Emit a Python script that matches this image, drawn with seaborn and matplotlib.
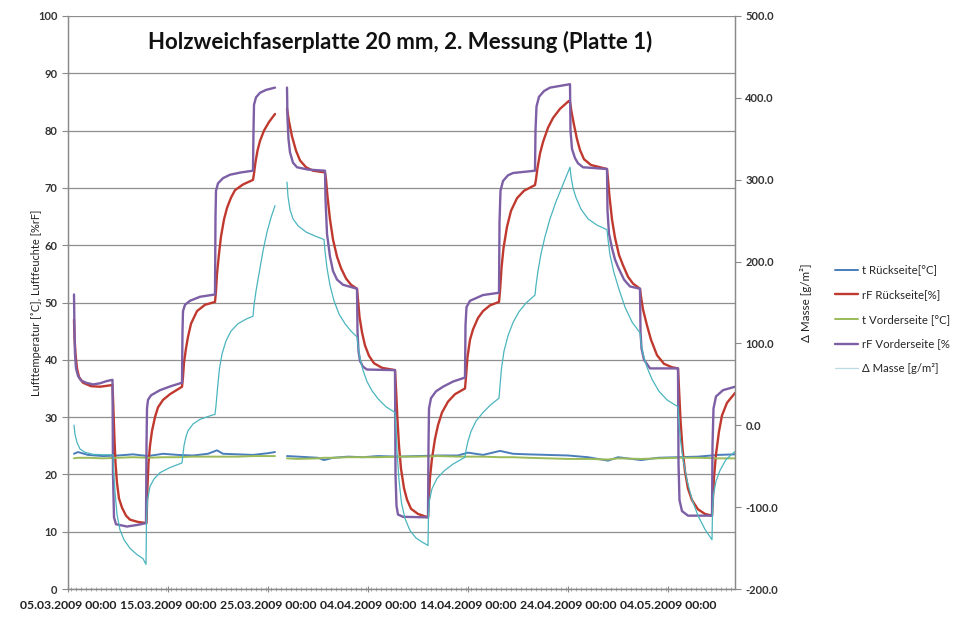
import numpy as np
import pandas as pd
import matplotlib
matplotlib.use("Agg")
import matplotlib.pyplot as plt
import matplotlib.dates as mdates
from matplotlib.lines import Line2D
import seaborn as sns

START = pd.Timestamp("2009-03-05")
GAP_DAY = 21.3  # no readings between ~25.03. 18:00 and ~26.03. 22:00

# rF Vorderseite [%]  (days after 05.03.2009)
rf_vor_days = [0.6, 0.65, 0.7, 0.8, 1.0, 1.3, 1.8, 2.5, 3.2, 3.9, 4.45,
               4.5, 4.6, 4.8, 5.9, 7.0, 7.8,
               7.85, 7.9, 8.0, 8.3, 9.2, 10.3, 11.4,
               11.45, 11.5, 11.7, 12.2, 13.2, 14.7,
               14.75, 14.8, 15.0, 15.5, 16.2, 17.3, 18.5,
               18.55, 18.6, 18.8, 19.2, 19.8, 20.7,
               21.9, 21.95, 22.05, 22.2, 22.5, 22.9, 24.0, 25.7,
               25.75, 25.9, 26.2, 26.5, 26.9, 27.5, 28.9,
               28.95, 29.05, 29.2, 29.5, 29.9, 32.7,
               32.75, 32.85, 33.0, 33.5, 36.0,
               36.05, 36.1, 36.3, 36.8, 37.5, 38.5, 39.7,
               39.75, 39.85, 40.2, 41.5, 43.1,
               43.15, 43.25, 43.5, 44.0, 44.5, 46.7,
               46.75, 46.85, 47.1, 47.6, 48.2, 50.2,
               50.25, 50.4, 50.7, 51.0, 51.5, 53.9,
               53.95, 54.1, 54.4, 54.7, 55.0, 55.6, 56.2, 57.2,
               57.25, 57.35, 57.6, 58.2, 61.0,
               61.05, 61.15, 61.4, 62.0, 64.4,
               64.45, 64.55, 64.8, 65.5, 66.7]
rf_vor = [51.4, 45.0, 41.0, 38.5, 37.2, 36.4, 36.0, 35.7, 35.9, 36.3, 36.5,
          20.0, 12.5, 11.3, 10.9, 11.2, 11.5,
          25.0, 31.5, 33.0, 33.8, 34.7, 35.4, 36.0,
          45.0, 48.5, 49.6, 50.3, 51.0, 51.4,
          65.0, 69.5, 70.8, 71.7, 72.3, 72.7, 73.0,
          80.0, 84.5, 85.8, 86.6, 87.1, 87.5,
          87.5, 82.0, 78.5, 76.2, 74.4, 73.6, 73.2, 73.0,
          68.0, 62.0, 58.0, 55.5, 54.0, 53.1, 52.4,
          45.0, 41.5, 39.8, 38.8, 38.3, 38.2,
          20.0, 14.5, 13.0, 12.6, 12.5,
          25.0, 31.5, 33.3, 34.5, 35.3, 36.2, 36.9,
          46.0, 49.2, 50.3, 51.3, 51.7,
          64.0, 69.5, 71.2, 72.2, 72.6, 73.0,
          80.0, 84.2, 85.9, 86.9, 87.5, 88.1,
          80.0, 76.8, 75.2, 74.3, 73.6, 73.3,
          66.0, 62.0, 59.5, 57.5, 56.2, 54.0, 52.8, 52.4,
          45.0, 42.0, 40.0, 38.5, 38.5,
          22.0, 15.5, 13.6, 12.8, 12.8,
          25.0, 31.5, 33.6, 34.7, 35.3]

# rF Rückseite [%]
rf_rue_days = [0.6, 0.65, 0.75, 0.9, 1.1, 1.5, 2.3, 3.2, 4.45,
               4.55, 4.65, 4.75, 4.9, 5.1, 5.4, 5.8, 6.2, 7.0, 7.85,
               7.95, 8.05, 8.2, 8.4, 8.7, 9.0, 9.5, 10.2, 11.4,
               11.5, 11.6, 11.8, 12.0, 12.3, 12.9, 13.7, 14.7,
               14.8, 14.9, 15.1, 15.3, 15.6, 15.9, 16.3, 16.7, 17.5, 18.5,
               18.6, 18.75, 18.95, 19.2, 19.6, 20.1, 20.7,
               21.9, 22.1, 22.4, 22.8, 23.2, 23.8, 24.5, 25.7,
               25.8, 25.95, 26.2, 26.5, 26.9, 27.3, 27.8, 28.3, 28.9,
               29.0, 29.15, 29.4, 29.7, 30.1, 30.6, 31.4, 32.7,
               32.8, 32.95, 33.1, 33.3, 33.6, 33.9, 34.3, 35.0, 36.0,
               36.1, 36.2, 36.4, 36.7, 37.0, 37.4, 38.0, 38.7, 39.7,
               39.8, 39.95, 40.2, 40.5, 41.0, 41.5, 42.2, 43.1,
               43.2, 43.35, 43.55, 43.9, 44.3, 44.9, 45.6, 46.7,
               46.8, 46.95, 47.2, 47.5, 48.0, 48.5, 49.2, 50.1,
               50.2, 50.35, 50.6, 50.9, 51.2, 51.6, 52.3, 53.9,
               54.0, 54.15, 54.4, 54.7, 55.1, 55.5, 56.0, 56.5, 57.2,
               57.3, 57.5, 57.9, 58.3, 58.9, 59.6, 60.4, 61.0,
               61.1, 61.25, 61.45, 61.7, 62.0, 62.4, 63.0, 63.7, 64.4,
               64.5, 64.6, 64.8, 65.1, 65.4, 65.9, 66.7]
rf_rue = [47.0, 44.0, 41.0, 38.5, 37.0, 36.0, 35.4, 35.3, 35.6,
          31.0, 26.0, 22.0, 18.5, 15.8, 14.2, 12.8, 12.1, 11.7, 11.5,
          18.0, 22.0, 25.0, 27.6, 30.0, 31.7, 33.0, 34.0, 35.3,
          37.0, 39.5, 42.0, 44.0, 46.3, 48.5, 49.6, 50.1,
          52.0, 55.0, 58.5, 61.5, 64.5, 66.5, 68.3, 69.6, 70.6, 71.4,
          72.5, 74.5, 76.5, 78.2, 80.0, 81.5, 82.9,
          83.8, 81.6, 79.0, 76.5, 74.8, 73.6, 73.0, 72.7,
          71.5, 68.5, 64.5, 61.0, 58.0, 56.0, 54.2, 53.1, 52.4,
          50.5, 47.5, 44.8, 42.5, 40.7, 39.4, 38.6, 38.2,
          35.0, 29.5, 25.0, 21.0, 17.6, 15.6, 14.0, 13.1, 12.5,
          16.0, 19.5, 22.8, 26.2, 28.6, 30.8, 32.7, 34.0, 35.0,
          37.0, 40.5, 43.5, 45.3, 47.3, 48.5, 49.5, 50.1,
          52.0, 56.0, 59.5, 63.2, 66.0, 68.2, 69.5, 70.5,
          71.5, 73.5, 76.0, 78.0, 80.5, 82.2, 83.8, 85.2,
          85.0, 83.3, 81.0, 78.5, 76.6, 75.0, 74.0, 73.3,
          71.5, 68.5, 64.5, 61.3, 58.3, 56.5, 54.5, 53.3, 52.4,
          51.0, 48.8, 46.0, 43.5, 40.8, 39.3, 38.7, 38.5,
          35.0, 29.5, 24.5, 20.5, 17.5, 15.5, 13.9, 13.1, 12.8,
          16.0, 19.5, 23.5, 27.5, 30.3, 32.5, 34.2]

# Δ Masse [g/m²]  (right axis)
masse_days = [0.6, 0.7, 0.9, 1.2, 1.7, 2.5, 3.5, 4.5,
              4.55, 4.7, 4.9, 5.2, 5.6, 6.2, 6.9, 7.5, 7.8,
              7.85, 7.95, 8.2, 8.6, 9.2, 10.2, 11.4,
              11.5, 11.6, 11.8, 12.0, 12.5, 13.2, 14.0, 14.7,
              14.8, 14.95, 15.15, 15.4, 15.8, 16.3, 17.0, 17.8, 18.5,
              18.6, 18.8, 19.1, 19.5, 19.9, 20.3, 20.7,
              21.9, 22.0, 22.2, 22.5, 23.0, 23.8, 24.7, 25.6,
              25.7, 25.9, 26.2, 26.6, 27.1, 27.7, 28.3, 28.9,
              29.0, 29.2, 29.5, 29.9, 30.4, 31.0, 31.8, 32.7,
              32.8, 32.9, 33.1, 33.35, 33.7, 34.2, 34.8, 35.4, 36.0,
              36.05, 36.15, 36.4, 36.9, 37.6, 38.5, 39.7,
              39.8, 40.0, 40.3, 40.8, 41.5, 42.3, 43.1,
              43.2, 43.35, 43.6, 44.0, 44.5, 45.1, 45.8, 46.7,
              46.8, 47.0, 47.3, 47.7, 48.2, 48.8, 49.5, 50.2,
              50.3, 50.5, 50.8, 51.3, 52.0, 52.9, 53.9,
              54.0, 54.2, 54.6, 55.1, 55.7, 56.4, 57.2,
              57.3, 57.5, 57.9, 58.4, 59.1, 59.9, 61.0,
              61.1, 61.25, 61.5, 61.9, 62.4, 63.0, 63.7, 64.4,
              64.45, 64.55, 64.8, 65.2, 65.8, 66.7]
masse = [0.2, -11.0, -21.0, -29.0, -33.0, -35.5, -36.0, -36.0,
         -53.0, -81.0, -109.0, -127.9, -139.8, -150.3, -158.0, -162.9, -169.9,
         -116.0, -91.5, -74.7, -65.6, -57.9, -51.6, -46.0,
         -35.5, -25.0, -13.8, -6.8, 1.6, 7.2, 10.7, 13.5,
         24.0, 45.0, 69.5, 87.0, 103.1, 115.0, 124.1, 129.7, 133.2,
         146.5, 164.0, 185.0, 213.0, 236.1, 253.6, 268.3,
         297.0, 279.5, 263.4, 252.2, 243.8, 236.1, 231.2, 227.0,
         213.0, 192.0, 171.0, 152.1, 136.0, 124.1, 115.0, 108.0,
         97.5, 81.4, 67.4, 53.4, 42.2, 32.4, 22.6, 15.6,
         -4.0, -32.0, -67.0, -95.0, -113.9, -128.6, -137.7, -142.6, -146.8,
         -109.0, -91.5, -77.5, -64.9, -55.8, -47.4, -39.0,
         -30.6, -19.4, -7.5, 5.1, 15.6, 25.4, 33.1,
         48.5, 69.5, 90.5, 109.4, 125.5, 138.8, 149.3, 159.1,
         171.0, 188.5, 209.5, 230.5, 252.2, 273.2, 294.2, 315.2,
         304.0, 290.0, 278.1, 264.1, 252.2, 244.5, 238.9,
         227.0, 208.1, 186.4, 166.1, 144.4, 126.2, 112.9,
         101.0, 87.0, 70.9, 56.2, 41.5, 31.0, 22.6,
         3.0, -18.0, -41.1, -67.0, -90.8, -110.4, -127.2, -139.8,
         -105.5, -84.5, -68.4, -55.1, -41.8, -32.0]

# t Rückseite / t Vorderseite [°C]
temp_days = [0.6, 1.0, 2.0, 3.5, 5.0, 6.5, 8.0, 9.5, 11.0, 12.5, 14.0, 14.9, 15.5,
             17.0, 18.5, 20.0, 20.7,
             21.9, 23.0, 25.0, 25.6, 26.5, 28.0, 29.5, 31.0, 33.0, 35.0, 37.0, 39.0,
             40.0, 41.5, 43.2, 44.5, 46.0, 48.0, 50.0, 52.0, 54.0, 55.0, 57.3, 59.0,
             61.0, 63.0, 65.0, 66.7]
t_rue = [23.6, 23.9, 23.4, 23.2, 23.3, 23.5, 23.2, 23.6, 23.4, 23.3, 23.6, 24.2, 23.6,
         23.5, 23.4, 23.7, 23.9,
         23.2, 23.1, 22.9, 22.5, 22.9, 23.1, 23.0, 23.2, 23.1, 23.2, 23.3, 23.3,
         23.8, 23.4, 24.1, 23.6, 23.5, 23.4, 23.3, 23.0, 22.4, 23.0, 22.5, 22.9,
         23.0, 23.1, 23.4, 23.5]
t_vor = [22.8, 22.9, 22.9, 22.8, 22.9, 23.0, 22.9, 23.0, 23.0, 23.1, 23.1, 23.1, 23.1,
         23.1, 23.2, 23.2, 23.2,
         22.8, 22.7, 22.8, 22.9, 22.9, 23.0, 23.0, 23.0, 23.1, 23.1, 23.2, 23.1,
         23.1, 23.1, 23.0, 23.0, 22.9, 22.8, 22.7, 22.7, 22.6, 22.8, 22.7, 22.8,
         22.9, 22.9, 22.8, 22.8]

labels = ["t Rückseite[°C]", "rF Rückseite[%]", "t Vorderseite [°C]",
          "rF Vorderseite [%", "Δ Masse [g/m²]"]
colors = ["#4A7EBB", "#C0392F", "#9BBB59", "#7D5FA6", "#4BB5BE"]
widths = [1.4, 1.7, 1.4, 1.7, 0.9]


def series_frame(days, values):
    d = np.asarray(days, dtype=float)
    return pd.DataFrame({
        "zeit": START + pd.to_timedelta(d, unit="D"),
        "wert": values,
        "abschnitt": (d > GAP_DAY).astype(int),
    })


sns.set_style("white")
plt.rcParams["font.family"] = ["Lato", "DejaVu Sans"]

fig = plt.figure(figsize=(9.55, 6.22), dpi=100)
ax = fig.add_axes([68 / 955, 1 - 589 / 622, 667 / 955, 573 / 622])
ax2 = ax.twinx()

main_series = [(temp_days, t_rue), (rf_rue_days, rf_rue), (temp_days, t_vor), (rf_vor_days, rf_vor)]
for i, (days, vals) in enumerate(main_series):
    sns.lineplot(data=series_frame(days, vals), x="zeit", y="wert", units="abschnitt",
                 estimator=None, sort=False, color=colors[i], lw=widths[i], ax=ax)
sns.lineplot(data=series_frame(masse_days, masse), x="zeit", y="wert", units="abschnitt",
             estimator=None, sort=False, color=colors[4], lw=widths[4], ax=ax2)

# axes
ax.set_xlim(START, START + pd.Timedelta(days=66.7))
ax.set_ylim(0, 100)
ax.set_yticks(range(0, 101, 10))
ax2.set_ylim(-200, 500)
ax2.set_yticks(range(-200, 501, 100))
ax2.set_yticklabels([f"{v:.1f}" for v in range(-200, 501, 100)])

ticks = [START + pd.Timedelta(days=10 * k) for k in range(7)]
ax.set_xticks(ticks)
ax.set_xticklabels([t.strftime("%d.%m.%Y %H:%M") for t in ticks])
ax.xaxis.set_minor_locator(mdates.HourLocator(interval=12))

ax.grid(axis="y", color="#8E8E8E", lw=0.9)
ax.set_axisbelow(True)
for a in (ax, ax2):
    a.spines["top"].set_visible(False)
    for side in ("left", "right", "bottom"):
        a.spines[side].set_color("#8A8A8A")
        a.spines[side].set_linewidth(0.9)

tick_font = dict(labelsize=8, labelcolor="#333333")
ax.tick_params(axis="y", which="major", length=4, color="#8A8A8A", left=True, **tick_font)
ax2.tick_params(axis="y", which="major", length=4, color="#8A8A8A", right=True, **tick_font)
ax.tick_params(axis="x", which="major", length=4, color="#8A8A8A", bottom=True,
               direction="inout", labelsize=8.8, labelcolor="#222222", pad=6)
ax.tick_params(axis="x", which="minor", length=2.5, color="#A0A0A0", bottom=True,
               direction="inout", width=0.6)
for lbl in ax.get_xticklabels() + ax.get_yticklabels() + ax2.get_yticklabels():
    lbl.set_fontweight("bold")

ax.set_xlabel("")
ax.set_ylabel("Lufttemperatur [˚C], Luftfeuchte [%rF]", fontsize=7.9, color="#222222")
ax.yaxis.set_label_coords(-0.039, 0.5)
ax2.set_xlabel("")
ax2.set_ylabel("Δ Masse [g/m²]", fontsize=8.4, color="#222222")
ax2.yaxis.set_label_coords(1.0975, 0.5)

ax.text(0.498, 0.955, "Holzweichfaserplatte 20 mm, 2. Messung (Platte 1)",
        transform=ax.transAxes, ha="center", va="center",
        fontsize=16, fontweight="bold", color="#111111")

handles = [Line2D([], [], color=c, lw=w) for c, w in zip(colors, widths)]
handles[4] = Line2D([], [], color="#B9DDE3", lw=0.9)
fig.legend(handles, labels, loc="upper left", bbox_to_anchor=(830 / 955, 1 - 260 / 622),
           frameon=False, fontsize=8.2, handlelength=2.1, handletextpad=0.3,
           labelspacing=1.2, borderaxespad=0)

fig.savefig("out.png", dpi=100, facecolor="white")
